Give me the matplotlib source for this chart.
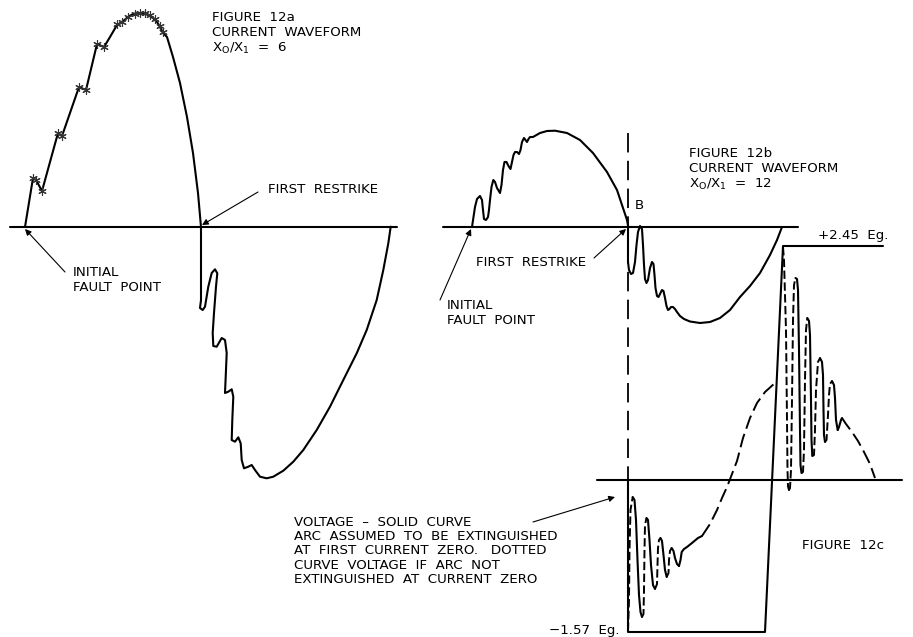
import matplotlib
matplotlib.use("Agg")
import matplotlib.pyplot as plt

plt.rcParams["lines.scale_dashes"] = False
plt.rcParams["font.family"] = "DejaVu Sans"

# drawing units are pixels of the original sheet (y grows downward)

# ---- figure 12a: current waveform, X0/X1 = 6 ----
a_axis_x = [10, 397]
a_axis_y = [227, 227]
a_pos_x = [25, 33, 36, 42, 58, 62, 79, 86, 97, 104, 110, 117, 122, 128, 133, 138, 143,
           148, 153, 157, 160, 163, 167, 173, 180, 187, 193, 198, 201]
a_pos_y = [227, 178, 180, 191, 133, 136, 87, 90, 44, 47, 37, 25, 22, 17, 14, 13, 13,
           15, 18, 22, 27, 33, 37, 57, 83, 117, 153, 193, 227]
a_star_x = [33, 36, 42, 58, 62, 79, 86, 97, 104, 117, 122, 128, 135, 140, 145, 150, 155, 160, 163]
a_star_y = [178, 180, 191, 133, 136, 87, 90, 44, 47, 24, 22, 17, 14, 13, 13, 15, 19, 26, 32]
a_neg_x = [201, 201, 200, 202.7, 205, 208.3, 211.7, 215, 217.3, 216, 214, 212.7, 213.3,
           216.7, 221.7, 225, 226.7, 225.7, 225, 228.3, 231.7, 233.3, 232.3, 231.7, 235,
           238.3, 240.7, 241.7, 244, 248.3, 251.7, 255, 260, 266.7, 273.3, 283.3, 293.3,
           303.3, 316.7, 330, 343.3, 356.7, 366.7, 376.7, 383.3, 388.3, 390.7]
a_neg_y = [227, 300, 308, 310, 306.7, 286.7, 273, 269.3, 273.3, 286.7, 313, 333, 346,
           346.7, 338, 340, 353, 376.7, 393, 391.7, 389.3, 396.7, 420, 440, 441.7,
           437.3, 443.3, 460, 468.3, 466.7, 465, 470, 476.7, 478.3, 476.7, 470.7, 461.7,
           450, 430, 406.7, 380, 353.3, 330, 300, 270, 243.3, 226.7]

# ---- figure 12b: current waveform, X0/X1 = 12 ----
b_axis_x = [443, 798]
b_axis_y = [227, 227]
b_pos_x = [472, 473.5, 475, 477, 480, 482, 483, 484, 486, 488, 489, 490, 491.5, 493.3,
           495, 497, 500, 501.5, 503, 504.5, 506.5, 508.5, 510.5, 512, 513.5, 515, 517,
           519, 520.5, 522, 524, 525.5, 527, 528.5, 530, 533, 540, 547, 555, 567, 580,
           593, 607, 617, 623, 627, 628.3]
b_pos_y = [227, 217, 207, 199, 196, 200, 210, 219, 220, 217, 210, 200, 187, 180,
           182, 188, 193, 185, 170, 162, 162, 166, 169, 162, 155, 152, 152, 154, 150,
           142, 138, 140, 142, 139, 137, 137, 133, 131, 130.7, 133, 140, 153, 172, 190,
           208, 220, 227]
b_neg_x = [628, 628, 629, 631, 633, 635, 636.5, 638, 640, 642, 643, 644, 645, 646.5,
           648, 650, 652, 653.5, 654.5, 655.5, 657, 658.5, 660, 662, 663.5, 665, 666.5,
           668, 669.5, 671, 673, 675, 677, 680, 684, 690, 700, 710, 720, 730, 740,
           750, 760, 770, 777, 782]
b_neg_y = [227, 262, 270, 274, 273, 262, 245, 232, 226, 229, 245, 265, 279, 283,
           280, 268, 262, 264, 275, 288, 296, 297, 294, 290, 291, 298, 306, 310, 309,
           307, 307, 309, 312, 316, 319, 321.5, 323, 322, 318, 310, 297, 286, 273, 255,
           240, 227]
b_marker_x = [628, 628]
b_marker_y = [133, 481]

# ---- figure 12c: voltage ----
c_axis_x = [597, 902]
c_axis_y = [480, 480]
c_square_x = [628, 628, 765, 783, 883]
c_square_y = [480, 632, 632, 246, 246]
# damped oscillation after the first current zero
c_osc1_x = [628, 629, 629.5, 630.5, 632.7, 634.5, 636, 637.5, 639, 640.5, 642,
            643.5, 644, 644.5, 645, 646.5, 648, 649.5, 651, 653, 655, 657, 657.5,
            658, 659, 660.5, 662, 663.5, 665, 666.7, 668.5, 669, 670, 671.7, 673.5,
            675, 677, 679]
c_osc1_y = [631, 600, 550, 510, 497, 500, 520, 560, 595, 612, 617, 614, 590, 550,
            525, 518, 520, 540, 565, 585, 589, 584, 565, 548, 540, 538, 541, 555, 570,
            577, 573, 560, 551, 548, 551, 558, 564, 566]
c_exit1_x = [679, 680.5, 681.7, 684, 687, 692, 698, 702]
c_exit1_y = [566, 560, 552, 549, 547, 543, 538, 536]
c_rise_x = [702, 710, 717, 722, 727, 732, 737, 743, 750, 757, 765, 775]
c_rise_y = [536, 524, 510, 498, 487, 474, 461, 438, 418, 403, 392, 383]
# oscillation after the restrike
c_lead2_x = [783, 784, 786, 787, 787.5, 788]
c_lead2_y = [247, 260, 330, 420, 470, 486]
c_osc2_x = [788, 789, 790, 791, 792, 793, 794, 795.5, 797, 798, 799, 800, 800.5,
            801.5, 803, 804, 805, 806, 807.3, 809, 810, 811, 811.5, 812.3, 814, 815,
            816, 818, 820, 822, 823, 823.5, 824, 825, 826.5, 828, 829, 830, 832, 834,
            835, 836, 837.7]
c_osc2_y = [486, 490, 488, 470, 400, 320, 285, 278, 279, 290, 350, 430, 465, 473,
            472, 450, 380, 330, 318, 321, 335, 400, 440, 456, 455, 430, 390, 362, 358,
            362, 375, 410, 435, 442, 440, 415, 395, 384, 381, 385, 398, 420, 430]
c_exit2_x = [837.7, 839, 841, 842]
c_exit2_y = [430, 427, 420, 418]
c_tail_x = [842, 846, 852, 858, 864, 870, 875]
c_tail_y = [418, 424, 432, 441, 452, 464, 478]

fig = plt.figure(figsize=(9.13, 6.37), dpi=100)
ax = fig.add_axes([0, 0, 1, 1])
ax.set_xlim(0, 913)
ax.set_ylim(637, 0)
ax.axis("off")

k = dict(color="black", lw=1.5, solid_joinstyle="round", solid_capstyle="round")
kd = dict(color="black", lw=1.4, dashes=(10, 4))
ko = dict(color="black", lw=1.4, dashes=(6, 2.5))


def draw_osc(xs, ys):
    # rising strokes dashed, falling strokes solid
    start = 0
    for i in range(1, len(ys)):
        last = i == len(ys) - 1
        if last or (ys[i] - ys[i - 1]) * (ys[i + 1] - ys[i]) < 0:
            sx, sy = xs[start:i + 1], ys[start:i + 1]
            if ys[i] < ys[start]:
                ax.plot(sx, sy, **ko)
            else:
                ax.plot(sx, sy, **k)
            start = i


# 12a
ax.plot(a_axis_x, a_axis_y, **k)
ax.plot(a_pos_x, a_pos_y, **k)
ax.plot(a_neg_x, a_neg_y, **k)
ax.plot(a_star_x, a_star_y, ls="none", marker=(6, 2, 0), ms=6, mew=0.8,
        color="#333333")

# 12b
ax.plot(b_axis_x, b_axis_y, **k)
ax.plot(b_pos_x, b_pos_y, **k)
ax.plot(b_neg_x, b_neg_y, **k)
ax.plot(b_marker_x, b_marker_y, color="black", lw=1.3, dashes=(14, 6))

# 12c
ax.plot(c_axis_x, c_axis_y, **k)
ax.plot(c_square_x, c_square_y, **k)
draw_osc(c_osc1_x, c_osc1_y)
ax.plot(c_exit1_x, c_exit1_y, **k)
ax.plot(c_rise_x, c_rise_y, **kd)
ax.plot(c_lead2_x, c_lead2_y, **ko)
draw_osc(c_osc2_x, c_osc2_y)
ax.plot(c_exit2_x, c_exit2_y, **k)
ax.plot(c_tail_x, c_tail_y, **kd)

fs = 9.6
tk = dict(fontsize=fs, color="black", va="top", ha="left", linespacing=1.2)
xo = "X$_\\mathregular{O}$/X$_\\mathregular{1}$"

ax.text(212, 11, "FIGURE  12a\nCURRENT  WAVEFORM", **tk)
ax.text(212, 41, xo + "  =  6", **tk)
ax.text(268, 183, "FIRST  RESTRIKE", **tk)
ax.text(73, 266, "INITIAL\nFAULT  POINT", **tk)

ax.text(689, 147, "FIGURE  12b\nCURRENT  WAVEFORM", **tk)
ax.text(689, 177, xo + "  =  12", **tk)
ax.text(635, 199, "B", **tk)
ax.text(476, 256, "FIRST  RESTRIKE", **tk)
ax.text(447, 299, "INITIAL\nFAULT  POINT", **tk)

ax.text(818, 229, "+2.45  Eg.", **tk)
ax.text(620, 624, "\u22121.57  Eg.", fontsize=fs, va="top", ha="right")
ax.text(802, 539, "FIGURE  12c", **tk)
ax.text(294, 516, "VOLTAGE  \u2013  SOLID  CURVE\n"
        "ARC  ASSUMED  TO  BE  EXTINGUISHED\n"
        "AT  FIRST  CURRENT  ZERO.   DOTTED\n"
        "CURVE  VOLTAGE  IF  ARC  NOT\n"
        "EXTINGUISHED  AT  CURRENT  ZERO", fontsize=fs, va="top", ha="left",
        linespacing=1.12)

ap = dict(arrowstyle="-|>", lw=0.8, color="black", mutation_scale=9,
          shrinkA=0, shrinkB=0)
ax.annotate("", xy=(202, 225), xytext=(258, 192), arrowprops=ap)
ax.annotate("", xy=(25, 229), xytext=(65, 272), arrowprops=ap)
ax.annotate("", xy=(626, 229), xytext=(594, 258), arrowprops=ap)
ax.annotate("", xy=(471, 229), xytext=(440, 300), arrowprops=ap)
ax.annotate("", xy=(615, 497), xytext=(533, 522), arrowprops=ap)

fig.savefig("out.png", dpi=100)
